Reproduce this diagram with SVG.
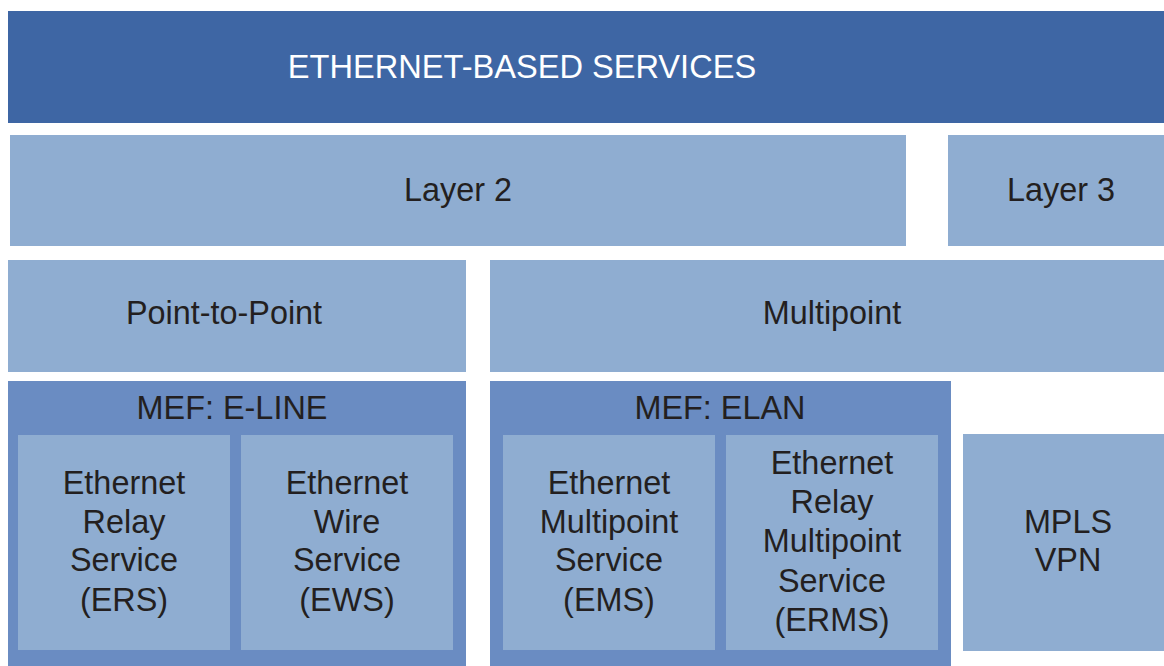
<svg xmlns="http://www.w3.org/2000/svg" width="1164" height="666" viewBox="0 0 1164 666">
<style>
.dark{fill:#3e66a4}
.light{fill:#8fadd1}
.mid{fill:#6a8cc2}
text{font-family:"Liberation Sans",Arial,sans-serif;font-size:32.4px;fill:#231f20;text-anchor:middle}
.w{fill:#ffffff;font-size:32.6px}
</style>
<rect width="1164" height="666" fill="#ffffff"/>
<g id="ethernet-services">
<rect class="dark" x="8" y="11" width="1156" height="112"/>
<text class="w" x="522" y="78">ETHERNET-BASED SERVICES</text>
</g>
<g id="layer2">
<rect class="light" x="10" y="135" width="896" height="111"/>
<text x="458" y="201">Layer 2</text>
</g>
<g id="layer3">
<rect class="light" x="948" y="135" width="216" height="111"/>
<text x="1061" y="201">Layer 3</text>
</g>
<g id="point-to-point">
<rect class="light" x="8" y="260" width="458" height="112"/>
<text x="224" y="324">Point-to-Point</text>
</g>
<g id="multipoint">
<rect class="light" x="490" y="260" width="674" height="112"/>
<text x="832" y="324">Multipoint</text>
</g>
<g id="mef-eline">
<rect class="mid" x="8" y="381" width="458" height="285"/>
<text x="232" y="419">MEF: E-LINE</text>
</g>
<g id="ers">
<rect class="light" x="18" y="435" width="212" height="215"/>
<text x="124" y="494">Ethernet</text>
<text x="124" y="533">Relay</text>
<text x="124" y="571">Service</text>
<text x="124" y="611">(ERS)</text>
</g>
<g id="ews">
<rect class="light" x="241" y="435" width="212" height="215"/>
<text x="347" y="494">Ethernet</text>
<text x="347" y="533">Wire</text>
<text x="347" y="571">Service</text>
<text x="347" y="611">(EWS)</text>
</g>
<g id="mef-elan">
<rect class="mid" x="490" y="381" width="461" height="285"/>
<text x="720" y="419">MEF: ELAN</text>
</g>
<g id="ems">
<rect class="light" x="503" y="435" width="212" height="215"/>
<text x="609" y="494">Ethernet</text>
<text x="609" y="533">Multipoint</text>
<text x="609" y="571">Service</text>
<text x="609" y="611">(EMS)</text>
</g>
<g id="erms">
<rect class="light" x="726" y="435" width="212" height="215"/>
<text x="832" y="474">Ethernet</text>
<text x="832" y="513">Relay</text>
<text x="832" y="552">Multipoint</text>
<text x="832" y="592">Service</text>
<text x="832" y="631">(ERMS)</text>
</g>
<g id="mpls-vpn">
<rect class="light" x="963" y="434" width="201" height="217"/>
<text x="1068" y="533">MPLS</text>
<text x="1068" y="571">VPN</text>
</g>
<g id="connectors"></g>
</svg>
